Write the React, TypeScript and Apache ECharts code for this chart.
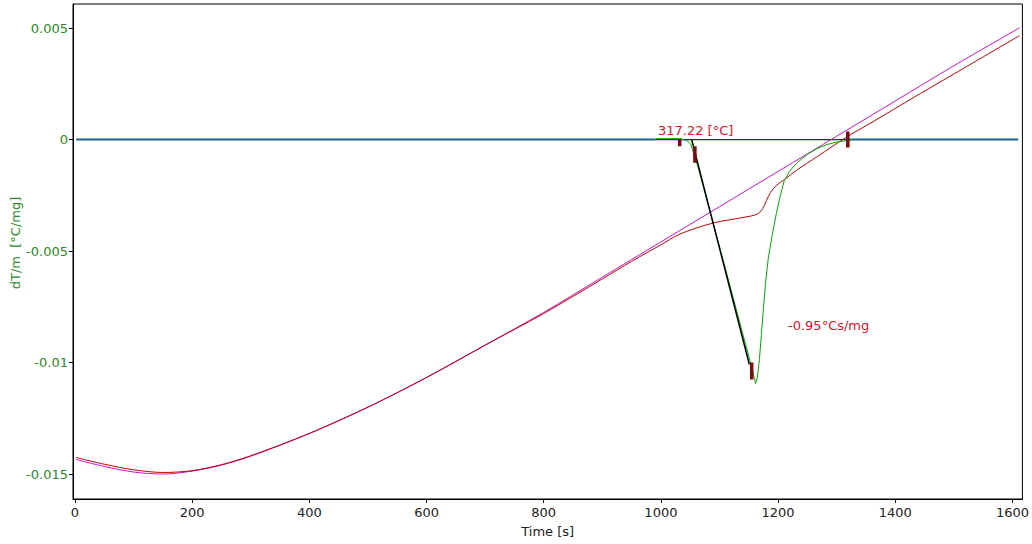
import React, { useEffect, useRef } from "react";
import * as echarts from "echarts";

const xTicks = [0, 200, 400, 600, 800, 1000, 1200, 1400, 1600];
const yTicks = [-0.015, -0.01, -0.005, 0, 0.005];
const yTickLabels = ["-0.015", "-0.01", "-0.005", "0", "0.005"];

const redT = [2, 50, 100, 150, 200, 250, 300, 400, 500, 600, 700, 800, 900, 950, 1000, 1029, 1060, 1093, 1130, 1160, 1168, 1174, 1180, 1187, 1197, 1211, 1233, 1267, 1318, 1369, 1425, 1500, 1612];
const redV = [-0.01426, -0.01456, -0.01481, -0.01493, -0.01485, -0.01458, -0.01418, -0.01318, -0.012, -0.01067, -0.00922, -0.0078, -0.00625, -0.00546, -0.00472, -0.00428, -0.00397, -0.00372, -0.00354, -0.00339, -0.00327, -0.00309, -0.00274, -0.00238, -0.00206, -0.00179, -0.00135, -0.00076, 0.00013, 0.00091, 0.00179, 0.00294, 0.00466];

const magT = [2, 50, 100, 150, 200, 250, 300, 400, 500, 600, 700, 800, 900, 1000, 1100, 1200, 1300, 1400, 1500, 1612];
const magV = [-0.01435, -0.01466, -0.01491, -0.015, -0.01487, -0.0146, -0.0142, -0.01318, -0.012, -0.01067, -0.00922, -0.00775, -0.00617, -0.00459, -0.00301, -0.00143, 0.00015, 0.00173, 0.00331, 0.00501];

const greenT = [990, 991, 1034, 1041, 1046, 1051, 1054, 1058, 1063, 1114, 1156, 1160, 1161.3, 1164.7, 1168.1, 1171.5, 1174.9, 1178.3, 1183.4, 1190.2, 1197, 1203.8, 1210.6, 1219.1, 1232.7, 1249.7, 1266.7, 1283.7, 1300.7, 1317.7, 1326];
const greenV = [0, 0.00004, 0.00004, -0.00002, -0.00008, -0.0002, -0.00045, -0.0008, -0.0012, -0.00617, -0.01032, -0.01076, -0.01094, -0.01067, -0.00987, -0.00874, -0.00762, -0.0065, -0.00529, -0.00426, -0.00332, -0.00251, -0.00184, -0.00143, -0.00103, -0.00067, -0.0004, -0.00022, -0.00011, -0.00004, 0];

const tealSegments = [
  [[2, 0], [990, 0]],
  [[1318, 0], [1610, 0]],
];
const navySegment = [[990, 0], [1318, 0]];
const tangentSegment = [[1052.5, 0], [1151, -0.01009]];
const markerSegments = [
  [[1032, 0], [1032, -0.0003]],
  [[1058, -0.0003], [1058, -0.00104]],
  [[1155, -0.01], [1155, -0.01076]],
  [[1319, 0.00036], [1319, -0.00036]],
];

const zip = (t: number[], v: number[]) => t.map((x, i) => [x, v[i]]);

const FONT = "DejaVu Sans";

export default function App() {
  const ref = useRef<HTMLDivElement>(null);
  useEffect(() => {
    if (!ref.current) return;
    const chart = echarts.init(ref.current, null, { renderer: "svg" });
    const lineBase = { type: "line", symbol: "none", silent: true };
    const series: any[] = [];
    tealSegments.forEach((seg) =>
      series.push({ ...lineBase, data: seg, lineStyle: { color: "#1b6590", width: 2 }, z: 2 })
    );
    series.push({ ...lineBase, data: navySegment, lineStyle: { color: "#1e1eb0", width: 1.2 }, z: 3 });
    series.push({ ...lineBase, data: zip(magT, magV), smooth: 0.3, lineStyle: { color: "#cc11cc", width: 1 }, z: 4 });
    series.push({ ...lineBase, data: zip(redT, redV), smooth: 0.3, lineStyle: { color: "#c00000", width: 1 }, z: 5 });
    series.push({ ...lineBase, data: zip(greenT, greenV), lineStyle: { color: "#00aa00", width: 1 }, z: 6 });
    series.push({ ...lineBase, data: tangentSegment, lineStyle: { color: "#000000", width: 1.5 }, z: 7 });
    markerSegments.forEach((seg) =>
      series.push({ ...lineBase, data: seg, lineStyle: { color: "#7a0c0c", width: 3.5 }, z: 8 })
    );

    chart.setOption({
      animation: false,
      backgroundColor: "#ffffff",
      grid: {
        left: 73,
        right: 6,
        top: 4,
        bottom: 45,
        show: true,
        borderColor: "#000000",
        borderWidth: 1,
        containLabel: false,
      },
      xAxis: {
        type: "value",
        position: "bottom",
        min: -3.4,
        max: 1617,
        name: "Time [s]",
        nameLocation: "middle",
        nameGap: 26,
        nameTextStyle: { color: "#222222", fontFamily: FONT, fontSize: 13 },
        axisLine: { show: true, onZero: false, lineStyle: { color: "#000000", width: 1 } },
        axisTick: { show: true, inside: false, length: 4, lineStyle: { color: "#000000" }, customValues: xTicks },
        axisLabel: {
          color: "#222222",
          fontFamily: FONT,
          fontSize: 13,
          margin: 7,
          customValues: xTicks,
          formatter: (v: number) => String(v),
        },
        splitLine: { show: false },
      },
      yAxis: {
        type: "value",
        position: "left",
        min: -0.01612,
        max: 0.00608,
        axisLine: { show: true, onZero: false, lineStyle: { color: "#000000", width: 1 } },
        axisTick: { show: true, inside: false, length: 4, lineStyle: { color: "#000000" }, customValues: yTicks },
        axisLabel: {
          color: "#2a8a2a",
          fontFamily: FONT,
          fontSize: 13,
          margin: 5,
          customValues: yTicks,
          formatter: (v: number) => {
            const i = yTicks.findIndex((t) => Math.abs(t - v) < 1e-9);
            return i >= 0 ? yTickLabels[i] : "";
          },
        },
        splitLine: { show: false },
      },
      graphic: [
        {
          type: "text",
          x: 15,
          y: 243,
          rotation: Math.PI / 2,
          style: {
            text: "dT/m  [°C/mg]",
            fill: "#2a8a2a",
            font: `13px '${FONT}'`,
            align: "center",
            verticalAlign: "middle",
          },
        },
        {
          type: "text",
          x: 658,
          y: 130,
          style: {
            text: "317.22 [°C]",
            fill: "#e0102a",
            font: `13px '${FONT}'`,
            align: "left",
            verticalAlign: "middle",
          },
        },
        {
          type: "text",
          x: 788,
          y: 325,
          style: {
            text: "-0.95°Cs/mg",
            fill: "#e0102a",
            font: `13px '${FONT}'`,
            align: "left",
            verticalAlign: "middle",
          },
        },
      ],
      series,
    });
    return () => chart.dispose();
  }, []);
  return <div ref={ref} style={{ width: 1032, height: 544, position: "absolute", left: 0, top: 0 }} />;
}
